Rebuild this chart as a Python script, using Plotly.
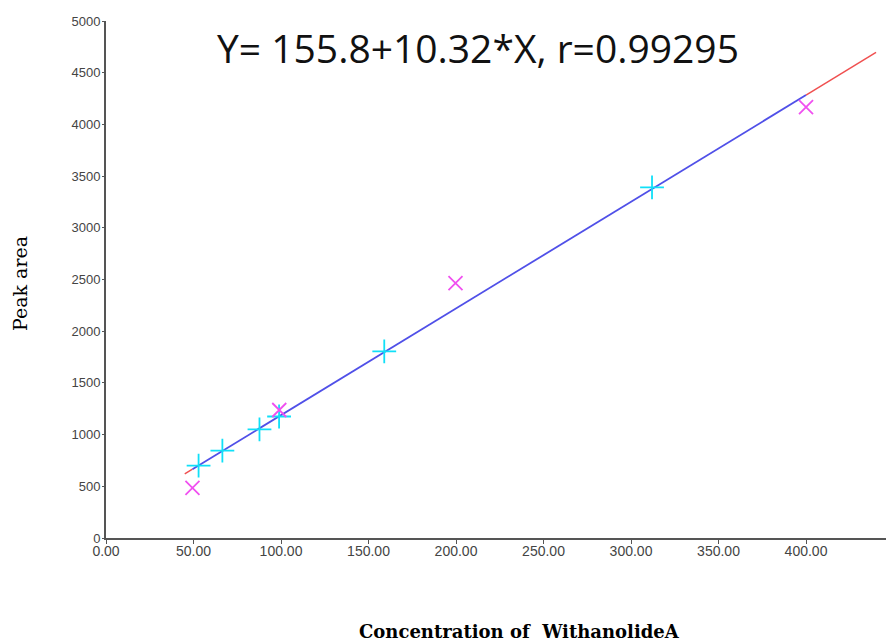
import plotly.graph_objects as go

# Calibration data
std_x = [52.9, 66.5, 87.7, 98.9, 159.0, 312.0]
std_y = [700, 845, 1050, 1175, 1805, 3390]
qc_x = [49.4, 99.0, 199.7, 400.0]
qc_y = [485, 1238, 2466, 4168]

fit_intercept = 155.8
fit_slope = 10.32
fit_blue_x = [49.4, 400.0]
fit_red_low_x = [45.0, 49.4]
fit_red_high_x = [400.0, 440.0]

x_ticks = [0, 50, 100, 150, 200, 250, 300, 350, 400]
x_tick_labels = ["0.00", "50.00", "100.00", "150.00", "200.00", "250.00", "300.00", "350.00", "400.00"]
y_ticks = [0, 500, 1000, 1500, 2000, 2500, 3000, 3500, 4000, 4500, 5000]

title_text = "Y= 155.8+10.32*X, r=0.99295"
x_title = "Concentration of  WithanolideA"
y_title = "Peak area"


def fit(xs):
    return [fit_intercept + fit_slope * v for v in xs]


fig = go.Figure()
for xs in (fit_red_low_x, fit_red_high_x):
    fig.add_trace(go.Scatter(x=xs, y=fit(xs), mode="lines",
                             line=dict(color="#f05050", width=1.5), showlegend=False))
fig.add_trace(go.Scatter(x=fit_blue_x, y=fit(fit_blue_x), mode="lines",
                         line=dict(color="#5050e8", width=1.8), showlegend=False))
fig.add_trace(go.Scatter(x=std_x, y=std_y, mode="markers",
                         marker=dict(symbol="cross-thin", size=17,
                                     line=dict(color="#10e0f8", width=1.8)),
                         showlegend=False))
fig.add_trace(go.Scatter(x=qc_x, y=qc_y, mode="markers",
                         marker=dict(symbol="x-thin", size=14,
                                     line=dict(color="#f050f0", width=1.8)),
                         showlegend=False))

fig.add_annotation(text=title_text, xref="paper", yref="paper",
                   x=(478 - 106) / 780, y=(538 - 47) / 517, xanchor="center", yanchor="middle",
                   showarrow=False, font=dict(family="Open Sans", size=39, color="#111111"))
fig.add_annotation(text="<b>" + x_title + "</b>", xref="paper", yref="paper",
                   x=(519 - 106) / 780, y=-(631 - 538) / 517, xanchor="center", yanchor="middle",
                   showarrow=False, font=dict(family="DejaVu Serif", size=18, color="#000000"))
fig.add_annotation(text=y_title, xref="paper", yref="paper",
                   x=-(106 - 20) / 780, y=(538 - 284) / 517, xanchor="center", yanchor="middle",
                   textangle=-90, showarrow=False,
                   font=dict(family="DejaVu Serif", size=19, color="#000000"))

fig.update_layout(
    width=886, height=643,
    margin=dict(l=106, r=0, t=21, b=105),
    paper_bgcolor="white", plot_bgcolor="white",
    font=dict(family="Liberation Sans", size=12, color="#444444"),
)
fig.update_xaxes(range=[0, 445.7], tickvals=x_ticks, ticktext=x_tick_labels,
                 showgrid=False, zeroline=False, showline=True, linecolor="#555555",
                 linewidth=2, ticks="outside", ticklen=4, tickcolor="#555555",
                 ticklabelstandoff=-5,
                 tickfont=dict(size=14, color="#444444"))
fig.update_yaxes(range=[0, 5000], tickvals=y_ticks,
                 showgrid=False, zeroline=False, showline=True, linecolor="#555555",
                 linewidth=2, ticks="outside", ticklen=2, tickcolor="#555555",
                 ticklabelstandoff=-1,
                 tickfont=dict(size=13, color="#444444"))

fig.write_html("out.html")
